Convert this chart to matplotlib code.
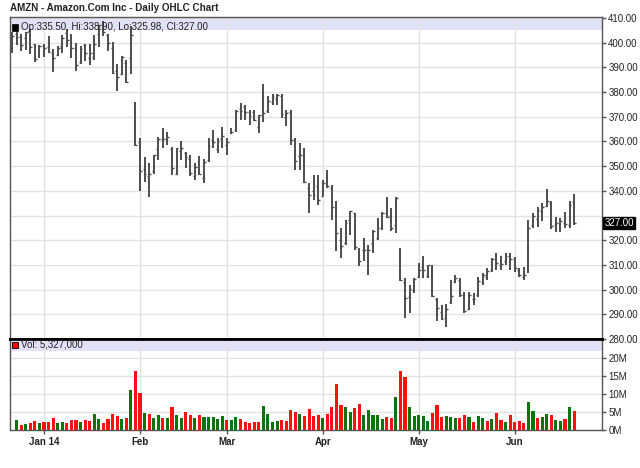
import matplotlib
matplotlib.use("Agg")
import matplotlib.pyplot as plt
import matplotlib.transforms as mtransforms
from matplotlib.patches import Rectangle
import numpy as np

plt.rcParams['font.family'] = ['Liberation Sans', 'DejaVu Sans']

# ---------------- data (trading days Dec 20 2013 .. Jun 19 2014) ----------------
opens = [397.0, 403.7, 402.5, 401.8, 404.7, 399.4, 394.6, 398.8, 398.3, 395.9,
         395.0, 398.5, 404.0, 402.5, 398.0, 392.1, 398.9, 393.7, 394.3, 403.7,
         408.0, 403.0, 398.0, 388.5, 387.4, 391.9, 393.8, 372.0, 359.7, 349.0,
         346.0, 348.0, 357.0, 361.0, 360.5, 357.0, 347.0, 356.0, 355.3, 353.0,
         346.0, 351.0, 345.0, 352.5, 360.5, 357.0, 361.0, 358.5, 363.4, 364.5,
         373.0, 374.0, 372.0, 372.0, 366.0, 376.5, 372.5, 376.0, 377.0, 378.5,
         370.0, 372.0, 360.0, 354.0, 356.0, 341.0, 340.0, 342.0, 338.0, 345.0,
         341.0, 335.0, 320.0, 319.0, 328.0, 331.0, 313.0, 316.0, 316.0, 319.0,
         321.0, 325.0, 331.0, 330.0, 326.0, 316.0, 303.0, 297.0, 300.0, 305.0,
         309.0, 305.5, 309.0, 296.0, 291.0, 288.5, 295.0, 303.0, 304.0, 298.0,
         292.0, 296.0, 298.0, 303.0, 305.0, 308.0, 313.5, 310.0, 311.5, 313.5,
         312.5, 308.0, 305.0, 307.5, 326.0, 328.5, 332.0, 334.0, 335.0, 326.0,
         325.0, 327.0, 326.0, 335.5]
highs = [404.5, 405.0, 403.5, 404.5, 405.5, 399.5, 399.0, 399.4, 402.7, 397.3,
         398.5, 403.0, 405.5, 403.5, 399.8, 398.6, 399.3, 399.3, 403.2, 407.2,
         408.8, 403.5, 400.4, 391.4, 394.7, 393.0, 406.8, 376.0, 361.3, 353.9,
         351.2, 354.6, 362.0, 365.3, 364.0, 357.9, 357.5, 360.0, 355.9, 354.5,
         351.2, 354.1, 353.0, 361.3, 364.7, 361.4, 366.0, 361.4, 365.3, 372.8,
         375.5, 374.8, 372.9, 372.9, 370.9, 383.3, 378.3, 379.2, 379.2, 379.2,
         372.9, 372.9, 361.4, 359.4, 357.4, 343.2, 346.6, 346.3, 344.5, 348.6,
         342.5, 335.8, 325.0, 328.0, 332.0, 331.0, 316.9, 320.9, 318.1, 324.2,
         328.9, 331.6, 337.7, 333.0, 337.7, 316.7, 304.6, 301.9, 304.6, 310.7,
         313.6, 310.0, 310.0, 296.5, 293.8, 294.2, 303.7, 306.0, 304.6, 299.2,
         299.2, 298.8, 305.3, 306.6, 308.7, 312.7, 314.7, 313.6, 315.0, 314.7,
         313.1, 308.7, 309.3, 328.2, 330.9, 333.4, 335.2, 340.6, 336.0, 329.6,
         328.9, 331.6, 336.0, 338.9]
lows = [395.7, 399.0, 396.5, 397.0, 395.5, 392.3, 393.8, 394.0, 396.0, 388.3,
        394.6, 396.0, 398.4, 393.7, 388.4, 391.5, 392.5, 391.0, 393.1, 398.4,
        402.6, 396.5, 387.2, 380.4, 386.9, 383.6, 387.2, 358.0, 340.1, 343.7,
        337.7, 347.0, 352.5, 357.2, 358.6, 346.4, 346.4, 352.5, 349.2, 346.0,
        344.4, 346.4, 343.1, 351.8, 357.2, 355.3, 357.2, 354.5, 363.0, 364.0,
        368.7, 368.5, 366.8, 368.2, 363.4, 368.0, 371.5, 374.9, 374.9, 369.5,
        366.1, 358.7, 348.6, 348.6, 343.2, 331.0, 336.4, 334.4, 337.8, 341.2,
        328.3, 315.5, 312.8, 318.2, 322.3, 316.2, 309.5, 311.5, 306.0, 314.7,
        320.1, 324.2, 328.9, 323.6, 323.1, 303.3, 288.4, 290.4, 298.5, 304.6,
        304.6, 304.6, 297.2, 287.1, 287.7, 285.0, 294.2, 302.6, 297.2, 290.4,
        291.8, 293.8, 297.2, 301.9, 303.9, 307.3, 308.0, 308.0, 310.0, 308.0,
        307.3, 305.3, 303.9, 306.6, 324.8, 325.5, 327.6, 333.6, 324.4, 323.5,
        323.5, 324.8, 324.8, 325.98]
closes = [402.9, 402.3, 399.2, 404.4, 398.1, 393.4, 398.8, 398.0, 396.4, 393.6,
          398.0, 401.9, 401.0, 397.7, 391.0, 397.5, 395.9, 395.8, 399.6, 407.1,
          404.5, 399.9, 387.6, 386.3, 394.4, 384.2, 403.0, 358.7, 347.9, 346.9,
          347.0, 354.6, 361.1, 360.9, 361.8, 349.3, 357.2, 357.4, 353.7, 347.4,
          349.8, 346.8, 351.8, 358.3, 359.8, 360.1, 362.1, 359.8, 363.9, 372.4,
          372.2, 372.1, 370.5, 368.8, 370.6, 371.5, 376.5, 378.0, 378.8, 371.0,
          371.5, 360.6, 351.9, 354.7, 343.4, 338.5, 338.3, 336.4, 343.0, 342.0,
          333.6, 323.0, 317.8, 327.1, 331.8, 317.1, 311.7, 315.9, 316.1, 323.7,
          324.9, 330.9, 329.3, 325.0, 337.2, 303.8, 296.6, 300.4, 304.1, 307.9,
          308.0, 310.0, 297.4, 292.7, 288.3, 292.2, 297.5, 304.6, 298.0, 291.5,
          297.7, 296.0, 303.3, 306.0, 307.5, 312.2, 310.8, 310.2, 313.8, 312.6,
          308.8, 305.8, 306.1, 324.8, 329.7, 332.4, 333.5, 336.0, 325.6, 327.0,
          327.8, 326.5, 334.4, 327.0]
# volume in millions of shares (first day not shown on chart)
volumes_m = [np.nan, 2.7, 1.4, 1.7, 1.9, 2.5, 1.9, 2.2, 2.2, 3.2,
             1.9, 2.2, 1.9, 2.7, 2.7, 2.2, 2.7, 2.5, 4.4, 3.0,
             1.9, 3.0, 4.4, 3.9, 3.0, 3.4, 11.1, 16.4, 10.3, 4.8,
             4.4, 3.2, 4.2, 3.4, 3.2, 6.5, 4.2, 3.4, 5.0, 4.2,
             3.4, 4.2, 3.7, 3.6, 3.6, 3.0, 3.9, 2.8, 2.8, 3.6,
             3.0, 2.2, 1.9, 2.2, 2.2, 6.8, 4.5, 2.2, 2.5, 2.8,
             2.5, 5.6, 5.0, 4.4, 3.9, 5.7, 3.9, 4.2, 3.4, 4.4,
             6.5, 12.7, 6.9, 6.5, 4.9, 6.2, 7.2, 4.2, 5.5, 4.2,
             4.2, 3.0, 3.6, 3.4, 9.3, 16.4, 14.6, 6.5, 3.9, 4.2,
             3.9, 2.5, 4.8, 6.9, 3.6, 3.9, 3.7, 3.4, 3.2, 4.1,
             3.7, 2.2, 3.9, 3.4, 2.4, 3.0, 4.8, 2.8, 2.2, 4.2,
             2.2, 2.5, 1.9, 7.9, 5.3, 3.2, 3.7, 4.4, 4.2, 2.8,
             2.5, 3.0, 6.5, 5.3]
# volume bar colour per day: g = up, r = down
vol_dir = list("-grgrrgrrr" "ggrrrgrrgg" "rrrrgrgrrg" "rggrgrggrr"
               "grgggggrgg" "rrrrrggggr" "rrrgrrrrgr" "rrrggrrggg"
               "ggrrgrrggg" "ggrrrgggrr" "grggrgrrgr" "rrrggrggrg"
               "grgr")
month_labels = ["Jan 14", "Feb", "Mar", "Apr", "May", "Jun"]
month_idx = [7, 28, 47, 68, 89, 110]
price_ticks = [410, 400, 390, 380, 370, 360, 350, 340, 320, 310, 300, 290, 280]
vol_ticks_m = [0, 5, 10, 15, 20]
last_close = 327.00
header_text = "Op:335.50, Hi:338.90, Lo:325.98, Cl:327.00"
vol_text = "Vol: 5,327,000"
title = "AMZN - Amazon.Com Inc - Daily OHLC Chart"

# ---------------- figure ----------------
W, H = 640, 468
fig = plt.figure(figsize=(W / 100, H / 100), dpi=100)
fig.patch.set_facecolor('white')

def fx(px):
    return px / W

def fy(py):
    return 1 - py / H

L, R = 10, 602
axp = fig.add_axes([fx(L), fy(339), fx(R) - fx(L), fy(17) - fy(339)])
axv = fig.add_axes([fx(L), fy(430), fx(R) - fx(L), fy(339) - fy(430)])

n = len(closes)
idx = np.arange(n)
xlim = (-0.44, 129.1)
grid_c = '#e2e2e2'
frame_c = '#555555'
text_c = '#222222'

# ---- price panel ----
axp.set_xlim(*xlim)
axp.set_ylim(280, 410.4)
axp.axhspan(405.1, 410.4, color='#e1e1f7', zorder=0.5, lw=0)
for p in range(280, 411, 10):
    axp.axhline(p, color=grid_c, lw=1, zorder=0.6)
for m in month_idx:
    axp.axvline(m, color=grid_c, lw=1, zorder=0.6)
bar_c = '#4d4d4d'
axp.vlines(idx, lows, highs, color=bar_c, lw=1.4, zorder=3)
axp.hlines(opens, idx - 0.4, idx, color=bar_c, lw=1.0, zorder=3)
axp.hlines(closes, idx, idx + 0.4, color=bar_c, lw=1.0, zorder=3)

axp.yaxis.tick_right()
axp.set_yticks(price_ticks)
axp.set_yticklabels([f"{t:.2f}" for t in price_ticks])
axp.tick_params(axis='y', direction='out', length=3, width=1, colors=frame_c,
                labelcolor=text_c, labelsize=7, pad=1.5)
axp.set_xticks([])
for s in ['left', 'right', 'top']:
    axp.spines[s].set_color(frame_c)
    axp.spines[s].set_linewidth(1)
axp.spines['bottom'].set_color('black')
axp.spines['bottom'].set_linewidth(2)

# header
axp.add_patch(Rectangle((0.004, 0.958), 0.010, 0.020, transform=axp.transAxes,
                        facecolor='black', edgecolor='black', lw=0.5, zorder=5))
axp.text(0.018, 0.968, header_text, transform=axp.transAxes, fontsize=7,
         color=text_c, va='center', ha='left', zorder=5)

# last close highlight
trans = mtransforms.blended_transform_factory(axp.transAxes, axp.transData)
axp.text(1.004, last_close, f"{last_close:.2f}", transform=trans, fontsize=7,
         color='white', va='center', ha='left', zorder=6,
         bbox=dict(boxstyle='square,pad=0.12', facecolor='black', edgecolor='black'))

# ---- volume panel ----
vols = np.array(volumes_m) * 1e6
axv.set_xlim(*xlim)
axv.set_ylim(0, 25.3e6)
axv.axhspan(22.0e6, 25.3e6, color='#e1e1f7', zorder=0.5, lw=0)
for v in [5e6, 10e6, 15e6, 20e6]:
    axv.axhline(v, color=grid_c, lw=1, zorder=0.6)
for m in month_idx:
    axv.axvline(m, color=grid_c, lw=1, zorder=0.6)
colors = ['#0d730d' if c == 'g' else '#ff1010' for c in vol_dir]
axv.bar(idx, vols, width=0.68, color=colors, zorder=3, lw=0)

axv.yaxis.tick_right()
axv.set_yticks([v * 1e6 for v in vol_ticks_m])
axv.set_yticklabels([f"{v}M" for v in vol_ticks_m])
axv.tick_params(axis='y', direction='out', length=3, width=1, colors=frame_c,
                labelcolor=text_c, labelsize=7, pad=1.5)
axv.set_xticks(month_idx)
axv.set_xticklabels(month_labels)
axv.tick_params(axis='x', direction='out', length=3, width=1, colors=frame_c,
                labelcolor=text_c, labelsize=7, pad=2)
for lab in axv.get_xticklabels():
    lab.set_fontweight('bold')
for s in ['left', 'right', 'bottom']:
    axv.spines[s].set_color(frame_c)
    axv.spines[s].set_linewidth(1)
axv.spines['top'].set_color('black')
axv.spines['top'].set_linewidth(2)

axv.add_patch(Rectangle((0.004, 0.905), 0.010, 0.065, transform=axv.transAxes,
                        facecolor='#ff0000', edgecolor='black', lw=0.6, zorder=5))
axv.text(0.018, 0.937, vol_text, transform=axv.transAxes, fontsize=7,
         color=text_c, va='center', ha='left', zorder=5)

fig.text(fx(10), fy(8), title, fontsize=7.1, fontweight='bold', color=text_c,
         va='center', ha='left')

fig.savefig("out.png", dpi=100)
